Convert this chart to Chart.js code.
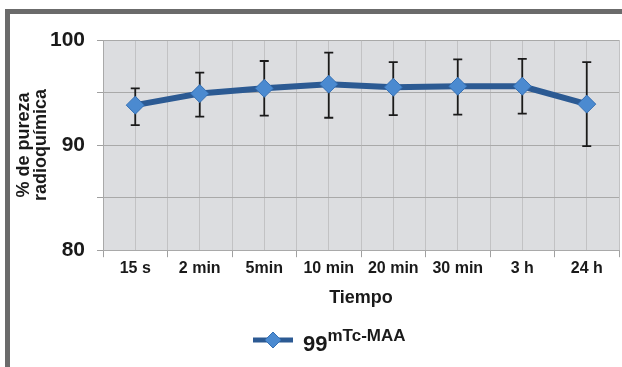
<!DOCTYPE html>
<html>
<head>
<meta charset="utf-8">
<script src="https://cdn.jsdelivr.net/npm/chart.js@4"></script>
<style>
  html, body { margin: 0; padding: 0; background: #fff; }
  body { width: 622px; height: 367px; position: relative; overflow: hidden; font-family: 'Liberation Sans', Arial, sans-serif; }
  .frame-top { position: absolute; left: 5px; top: 9px; width: 617px; height: 5px; background: #6b6b6b; }
  .frame-left { position: absolute; left: 5px; top: 9px; width: 5px; height: 358px; background: #6b6b6b; }
  #wrap { position: absolute; left: 10px; top: 14px; width: 612px; height: 353px; }
  #legend { position: absolute; left: 253px; top: 330px; height: 22px; }
  #legend svg { position: absolute; left: 0; top: 0; }
  #legend .txt { position: absolute; left: 50px; top: 3px; white-space: nowrap; font-weight: bold; font-size: 22px; line-height: 22px; color: #1a1a1a; }
  #legend sup { font-size: 17px; vertical-align: baseline; position: relative; top: -10px; }
</style>
</head>
<body>
<div class="frame-top"></div>
<div class="frame-left"></div>
<div id="wrap"><canvas id="chart"></canvas></div>
<div id="legend">
  <svg width="42" height="20" viewBox="0 0 42 20">
    <line x1="0" y1="10" x2="40" y2="10" stroke="#2c5a93" stroke-width="5"/>
    <polygon points="20,2 28,10 20,18 12,10" fill="#4b8ad0" stroke="#3570b5" stroke-width="1"/>
  </svg>
  <span class="txt">99<sup>mTc-MAA</sup></span>
</div>
<script>
// Tiempo de medida
const categories = ['15 s', '2 min', '5min', '10 min', '20 min', '30 min', '3 h', '24 h'];
// % de pureza radioquimica (media)
const pureza = [93.8, 94.9, 95.4, 95.8, 95.5, 95.6, 95.6, 93.9];
// barras de error (arriba / abajo)
const errorArriba = [1.6, 2.0, 2.6, 3.0, 2.4, 2.55, 2.6, 4.0];
const errorAbajo = [1.9, 2.2, 2.6, 3.2, 2.65, 2.7, 2.6, 4.0];
const yTickLabels = [80, 90, 100];
const serieNombre = '99mTc-MAA';

const FONT = "'Liberation Sans', Arial, sans-serif";

// fondo gris del area de trazado
const plotBg = {
  id: 'plotBg',
  beforeDraw(chart) {
    const a = chart.chartArea, ctx = chart.ctx;
    ctx.save();
    ctx.fillStyle = '#dcdde0';
    ctx.fillRect(a.left, a.top, a.right - a.left, a.bottom - a.top);
    ctx.restore();
  }
};

// barras de error, dibujadas debajo de la linea
const errorBars = {
  id: 'errorBars',
  beforeDatasetsDraw(chart) {
    const ctx = chart.ctx;
    const xs = chart.scales.x, ys = chart.scales.y;
    ctx.save();
    ctx.strokeStyle = '#1a1a1a';
    ctx.lineWidth = 1.8;
    pureza.forEach((v, i) => {
      const x = xs.getPixelForValue(i);
      const yTop = ys.getPixelForValue(v + errorArriba[i]);
      const yBot = ys.getPixelForValue(v - errorAbajo[i]);
      ctx.beginPath();
      ctx.moveTo(x, yTop); ctx.lineTo(x, yBot);
      ctx.moveTo(x - 4.5, yTop); ctx.lineTo(x + 4.5, yTop);
      ctx.moveTo(x - 4.5, yBot); ctx.lineTo(x + 4.5, yBot);
      ctx.stroke();
    });
    ctx.restore();
  }
};

new Chart(document.getElementById('chart'), {
  type: 'line',
  data: {
    labels: categories,
    datasets: [{
      label: serieNombre,
      data: pureza,
      borderColor: '#2c5a93',
      borderWidth: 6,
      tension: 0,
      pointStyle: 'rectRot',
      pointRadius: 9,
      pointHoverRadius: 9,
      pointBackgroundColor: '#4b8ad0',
      pointBorderColor: '#3570b5',
      pointBorderWidth: 1
    }]
  },
  options: {
    responsive: true,
    maintainAspectRatio: false,
    animation: false,
    layout: { autoPadding: false, padding: { top: 26, right: 3, bottom: 58, left: 0 } },
    plugins: {
      legend: { display: false },
      tooltip: { enabled: false }
    },
    scales: {
      x: {
        type: 'category',
        offset: true,
        grid: { offset: true, color: '#c2c2c4', tickLength: 7, tickColor: '#a0a0a0' },
        border: { color: '#a9a9a9' },
        ticks: { color: '#1a1a1a', padding: 2, font: { family: FONT, size: 16, weight: 'bold' } },
        title: {
          display: true, text: 'Tiempo', color: '#1a1a1a',
          padding: { top: 7, bottom: 0 },
          font: { family: FONT, size: 18, weight: 'bold' }
        }
      },
      x2: {
        type: 'category',
        position: 'bottom',
        offset: true,
        grid: { offset: false, color: '#c2c2c4', drawTicks: false },
        border: { display: false },
        ticks: { display: false }
      },
      y: {
        min: 80,
        max: 100,
        ticks: {
          stepSize: 5,
          padding: 12,
          color: '#1a1a1a',
          font: { family: FONT, size: 21, weight: 'bold' },
          callback: (v) => yTickLabels.includes(v) ? String(v) : ''
        },
        grid: { color: '#a9a9a9', tickLength: 6, tickColor: '#a0a0a0' },
        border: { color: '#a9a9a9' },
        title: {
          display: true,
          text: ['% de pureza', 'radioquímica'],
          color: '#1a1a1a',
          padding: { top: 5, bottom: 4 },
          font: { family: FONT, size: 18, weight: 'bold', lineHeight: 0.95 }
        },
        afterFit(scale) { scale.width = 93; }
      }
    }
  },
  plugins: [plotBg, errorBars]
});
</script>
</body>
</html>
